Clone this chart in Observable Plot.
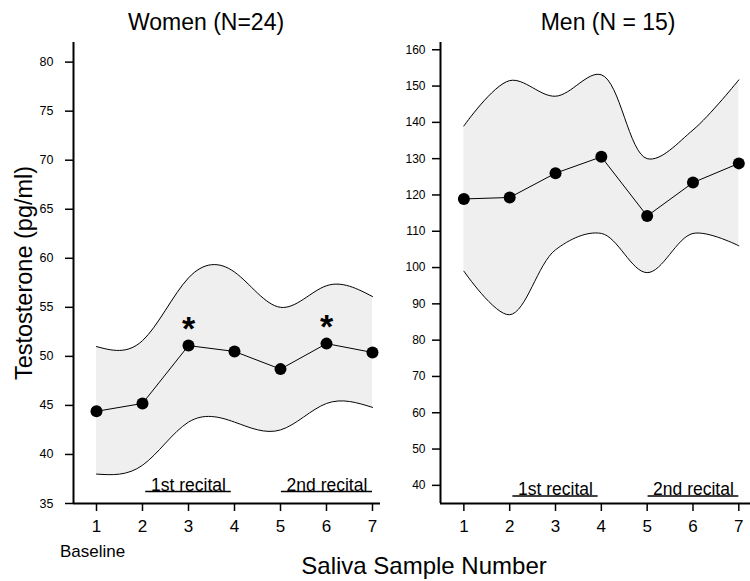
<!DOCTYPE html>
<html>
<head>
<meta charset="utf-8">
<script src="https://cdn.jsdelivr.net/npm/d3@7"></script>
<script src="https://cdn.jsdelivr.net/npm/@observablehq/plot@0.6"></script>
<style>
  html, body { margin: 0; padding: 0; background: #fff; }
  #chart { position: relative; width: 750px; height: 581px; background: #fff; font-family: "Liberation Sans", Arial, sans-serif; }
  #chart svg { position: absolute; top: 0; }
  #xlabel { position: absolute; left: 274px; width: 300px; top: 555px; text-align: center; font-size: 24px; line-height: 22px; color: #000; }
</style>
</head>
<body>
<div id="chart"><div id="xlabel">Saliva Sample Number</div></div>
<script>
// ---- data ----
const samples = [1, 2, 3, 4, 5, 6, 7];

const womenTitle = "Women (N=24)";
const womenMean  = [44.4, 45.2, 51.1, 50.5, 48.7, 51.3, 50.4];
const womenUpper = [51.0, 51.6, 58.0, 58.6, 55.0, 57.2, 56.1];
const womenLower = [38.0, 38.9, 43.3, 43.3, 42.5, 45.2, 44.8];
const womenSignificant = [3, 6];
const womenTicks = [35, 40, 45, 50, 55, 60, 65, 70, 75, 80];

const menTitle = "Men (N = 15)";
const menMean  = [118.9, 119.3, 126.0, 130.5, 114.2, 123.4, 128.7];
const menUpper = [139.0, 151.5, 147.2, 153.1, 130.0, 137.9, 151.7];
const menLower = [99.0, 87.0, 104.9, 109.4, 98.6, 109.4, 106.0];
const menTicks = [40, 50, 60, 70, 80, 90, 100, 110, 120, 130, 140, 150, 160];

const recitalLabels = ["1st recital", "2nd recital"];
const recitalFrom = [2.07, 5.02];
const recitalTo   = [3.93, 7.0];

const baselineLabel = "Baseline";
const baselineSample = 1;
const yLabel = "Testosterone (pg/ml)";

// ---- build tables ----
const toRows = (mean, upper, lower) => samples.map((s, i) => ({sample: s, mean: mean[i], upper: upper[i], lower: lower[i]}));
const women = toRows(womenMean, womenUpper, womenLower);
const men = toRows(menMean, menUpper, menLower);
const recitals = recitalLabels.map((label, i) => ({label, from: recitalFrom[i], to: recitalTo[i], mid: (recitalFrom[i] + recitalTo[i]) / 2}));
const FONT = "Liberation Sans, Arial, sans-serif";

function panel(opt) {
  const {rows, curve, xDomain, yDomain, ticks, width, marginLeft, marginRight, yTickPadding, yFont, title, titleDx, recitalDy, underlineDy, extra} = opt;
  return Plot.plot({
    width, height: 581,
    marginLeft, marginRight, marginTop: 42, marginBottom: 78,
    style: {fontFamily: FONT, background: "transparent", overflow: "visible", color: "#000"},
    x: {domain: xDomain, axis: null},
    y: {domain: yDomain, axis: null},
    marks: [
      Plot.areaY(rows, {x: "sample", y1: "lower", y2: "upper", fill: "#efefef", curve}),
      Plot.line(rows, {x: "sample", y: "upper", stroke: "#000", strokeWidth: 1, curve}),
      Plot.line(rows, {x: "sample", y: "lower", stroke: "#000", strokeWidth: 1, curve}),
      Plot.line(rows, {x: "sample", y: "mean", stroke: "#000", strokeWidth: 1}),
      Plot.dot(rows, {x: "sample", y: "mean", r: 6, fill: "#000", stroke: null}),
      Plot.ruleX([xDomain[0]], {stroke: "#000", strokeWidth: 2}),
      Plot.ruleY([yDomain[0]], {stroke: "#000", strokeWidth: 2}),
      Plot.axisX({ticks: samples, tickSize: 8, tickPadding: 8, fontSize: 17, strokeWidth: 1.5, label: null, tickFormat: d => String(d)}),
      Plot.axisY({ticks, tickSize: 8, tickPadding: yTickPadding, fontSize: yFont, strokeWidth: 1.5, label: null}),
      Plot.ruleY(recitals, {x1: "from", x2: "to", y: yDomain[0], dy: underlineDy, stroke: "#000", strokeWidth: 1.3}),
      Plot.text(recitals, {x: "mid", y: yDomain[0], text: "label", dy: recitalDy, lineAnchor: "bottom", fontSize: 17.5, fill: "#000"}),
      Plot.text([title], {frameAnchor: "top", dx: titleDx, dy: -13, lineAnchor: "bottom", fontSize: 23, fill: "#000"}),
      ...(extra || [])
    ]
  });
}

const left = panel({
  rows: women, curve: "natural", xDomain: [0.5, 7.174], yDomain: [35, 82], ticks: womenTicks,
  width: 385, marginLeft: 73, marginRight: 5, yTickPadding: 12, yFont: 12.5,
  title: womenTitle, titleDx: -21, recitalDy: -13, underlineDy: -12,
  extra: [
    Plot.text(women.filter(d => womenSignificant.includes(d.sample)), {x: "sample", y: "mean", text: () => "*", dy: -6, lineAnchor: "bottom", fontSize: 34, fontWeight: "bold", fill: "#000"}),
    Plot.text([baselineLabel], {x: () => baselineSample, frameAnchor: "bottom", dx: -4, dy: 53, fontSize: 17, fill: "#000"}),
    Plot.text([yLabel], {frameAnchor: "left", textAnchor: "middle", dx: -49, rotate: -90, fontSize: 23.5, fill: "#000"})
  ]
});
left.style.left = "0px";

const right = panel({
  rows: men, curve: "catmull-rom", xDomain: [0.49, 7.255], yDomain: [35, 162], ticks: menTicks,
  width: 365, marginLeft: 55, marginRight: 0, yTickPadding: 7, yFont: 12,
  title: menTitle, titleDx: 12.6, recitalDy: -9, underlineDy: -7.5
});
right.style.left = "385px";

const chart = document.getElementById("chart");
chart.appendChild(left);
chart.appendChild(right);
</script>
</body>
</html>
